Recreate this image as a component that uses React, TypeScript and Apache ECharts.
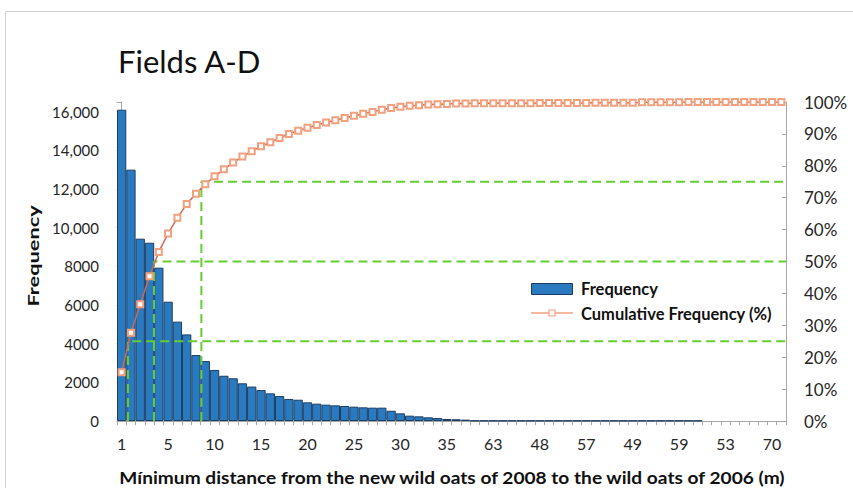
import React, { useEffect, useRef } from "react";
import * as echarts from "echarts";

const title = "Fields A-D";
const xAxisTitle = "Mínimum distance from the new wild oats of 2008 to the wild oats of 2006 (m)";
const yAxisTitle = "Frequency";
const legendLabels = ["Frequency", "Cumulative Frequency (%)"];

// 72 category slots; only every 5th label is shown (as in the reference)
const categories = [
  "1", "1", "2", "3", "4", "5", "6", "7", "8", "9",
  "10", "11", "12", "13", "14", "15", "16", "17", "18", "19",
  "20", "21", "22", "23", "24", "25", "26", "27", "28", "29",
  "30", "31", "32", "33", "34", "35", "36", "37", "38", "39",
  "63", "41", "42", "43", "44", "48", "46", "47", "50", "51",
  "57", "52", "54", "55", "56", "49", "58", "60", "61", "62",
  "59", "64", "65", "66", "67", "53", "68", "69", "71", "72",
  "70", "73",
];

const frequency = [
  16100, 13000, 9430, 9220, 7930, 6170, 5140, 4480, 3410, 3100,
  2640, 2340, 2210, 1950, 1780, 1600, 1430, 1290, 1140, 1100,
  965, 896, 845, 810, 776, 740, 707, 690, 690, 530,
  396, 276, 241, 190, 155, 103, 90, 70, 20, 20,
  20, 20, 20, 20, 20, 20, 20, 20, 20, 20,
  20, 20, 20, 20, 20, 20, 20, 20, 20, 20,
  20, 20, 20, null, null, null, null, null, null, null,
  null, null,
];

const cumulativePct = [
  15.3, 27.7, 36.6, 45.4, 53.0, 58.8, 63.7, 68.0, 71.2, 74.2,
  76.7, 78.9, 81.0, 82.9, 84.6, 86.1, 87.4, 88.7, 90.0, 91.0,
  91.9, 92.8, 93.6, 94.3, 95.0, 95.7, 96.3, 96.9, 97.6, 98.1,
  98.5, 98.8, 99.0, 99.2, 99.3, 99.4, 99.5, 99.5, 99.6, 99.6,
  99.6, 99.6, 99.6, 99.6, 99.6, 99.7, 99.7, 99.7, 99.7, 99.7,
  99.7, 99.8, 99.8, 99.8, 99.8, 99.8, 99.9, 99.9, 99.9, 99.9,
  99.9, 100, 100, 100, 100, 100, 100, 100, 100, 100,
  100, 100,
];

// quartile guide lines: crossing position (in category units) and percent level
const guideX = [0.68, 3.48, 8.58];
const guidePct = [25, 50, 75];

const leftTicks = [0, 2000, 4000, 6000, 8000, 10000, 12000, 14000, 16000];
const leftTickLabels = ["0", "2000", "4000", "6000", "8000", "10,000", "12,000", "14,000", "16,000"];

const FONT = "Lato";
const TEXT = "#262626";
const AXIS = "#a6a6a6";
const BAR_FILL = "#2a7ac0";
const BAR_BORDER = "#1d3d63";
const CUM_LINE = "#cc6a58";
const CUM_MARK = "#f2a07e";
const GUIDE = "#66cc33";

export default function App() {
  const ref = useRef<HTMLDivElement>(null);

  useEffect(() => {
    if (!ref.current) return;
    const chart = echarts.init(ref.current, undefined, { renderer: "svg" });
    const n = categories.length;
    const xMax = n - 0.5;

    const guideSeries = guideX.map((gx, i) => ({
      name: "guide" + i,
      type: "line",
      xAxisIndex: 1,
      yAxisIndex: 1,
      symbol: "none",
      silent: true,
      z: 3,
      lineStyle: { color: GUIDE, width: 2, type: [9, 5] },
      data: [
        [gx, 0],
        [gx, guidePct[i]],
        [xMax, guidePct[i]],
      ],
    }));

    const legendText = (label: string, y: number) => ({
      type: "text",
      x: 581,
      y,
      z: 20,
      style: {
        text: label,
        fontFamily: FONT,
        fontSize: 16.5,
        fontWeight: "bold",
        fill: "#111",
        textVerticalAlign: "middle",
      },
    });

    chart.setOption({
      animation: false,
      backgroundColor: "#ffffff",
      textStyle: { fontFamily: FONT },
      grid: { left: 117, right: 67, top: 102, bottom: 67, containLabel: false },
      graphic: [
        {
          type: "rect",
          shape: { x: 5.5, y: 11.5, width: 900, height: 600 },
          style: { fill: "none", stroke: "#d0d0d0", lineWidth: 1 },
          silent: true,
          z: -10,
        },
        {
          type: "text",
          x: 118,
          y: 61,
          style: {
            text: title,
            fontFamily: FONT,
            fontSize: 31,
            fill: "#111",
            textVerticalAlign: "middle",
          },
        },
        {
          type: "text",
          x: 33,
          y: 256,
          rotation: Math.PI / 2,
          scaleX: 1.36,
          style: {
            text: yAxisTitle,
            fontFamily: FONT,
            fontSize: 16,
            fontWeight: "bold",
            fill: "#111",
            textAlign: "center",
            textVerticalAlign: "middle",
          },
        },
        {
          type: "text",
          x: 452,
          y: 477.5,
          scaleX: 1.16,
          style: {
            text: xAxisTitle,
            fontFamily: FONT,
            fontSize: 16.5,
            fontWeight: "bold",
            fill: "#111",
            textAlign: "center",
            textVerticalAlign: "middle",
          },
        },
        // legend: bar swatch
        {
          type: "rect",
          z: 20,
          shape: { x: 531.5, y: 283.5, width: 41, height: 11 },
          style: { fill: BAR_FILL, stroke: BAR_BORDER, lineWidth: 1 },
        },
        legendText(legendLabels[0], 289),
        // legend: line swatch with square marker
        {
          type: "line",
          z: 20,
          shape: { x1: 531, y1: 313, x2: 573, y2: 313 },
          style: { stroke: CUM_MARK, lineWidth: 1.5 },
        },
        {
          type: "rect",
          z: 21,
          shape: { x: 549, y: 310, width: 6, height: 6 },
          style: { fill: "#ffffff", stroke: CUM_MARK, lineWidth: 1.2 },
        },
        legendText(legendLabels[1], 313.5),
      ],
      xAxis: [
        {
          type: "category",
          data: categories,
          boundaryGap: true,
          axisLine: { show: true, lineStyle: { color: AXIS } },
          axisTick: { show: true, interval: 0, length: 4, lineStyle: { color: AXIS } },
          axisLabel: { interval: 4, margin: 14, fontSize: 16, color: TEXT, fontFamily: FONT },
          splitLine: { show: false },
        },
        {
          type: "value",
          min: -0.5,
          max: xMax,
          show: false,
        },
      ],
      yAxis: [
        {
          type: "value",
          min: 0,
          max: 16500,
          interval: 2000,
          axisLine: { show: true, lineStyle: { color: AXIS } },
          axisTick: { show: true, length: 5, lineStyle: { color: AXIS } },
          axisLabel: {
            margin: 18,
            fontSize: 15,
            color: TEXT,
            fontFamily: FONT,
            formatter: (v: number) => {
              const i = leftTicks.indexOf(v);
              return i >= 0 ? leftTickLabels[i] : "";
            },
          },
          splitLine: { show: false },
        },
        {
          type: "value",
          min: 0,
          max: 100,
          interval: 10,
          position: "right",
          axisLine: { show: true, lineStyle: { color: AXIS } },
          axisTick: { show: true, inside: true, length: 4, lineStyle: { color: AXIS } },
          axisLabel: { margin: 18, fontSize: 17, color: TEXT, fontFamily: FONT, formatter: "{value}%" },
          splitLine: { show: false },
        },
      ],
      series: [
        {
          name: legendLabels[0],
          type: "bar",
          xAxisIndex: 0,
          yAxisIndex: 0,
          barCategoryGap: "0%",
          z: 2,
          itemStyle: { color: BAR_FILL, borderColor: BAR_BORDER, borderWidth: 1 },
          data: frequency,
        },
        ...guideSeries,
        {
          name: legendLabels[1],
          type: "line",
          xAxisIndex: 0,
          yAxisIndex: 1,
          z: 4,
          symbol: "emptyRect",
          symbolSize: 6,
          smooth: false,
          lineStyle: { color: CUM_LINE, width: 1.5 },
          itemStyle: { color: CUM_MARK, borderColor: CUM_MARK, borderWidth: 1.2 },
          data: cumulativePct,
        },
      ],
    });

    return () => chart.dispose();
  }, []);

  return (
    <div
      ref={ref}
      style={{ position: "fixed", left: 0, top: 0, width: 853, height: 488 }}
    />
  );
}
